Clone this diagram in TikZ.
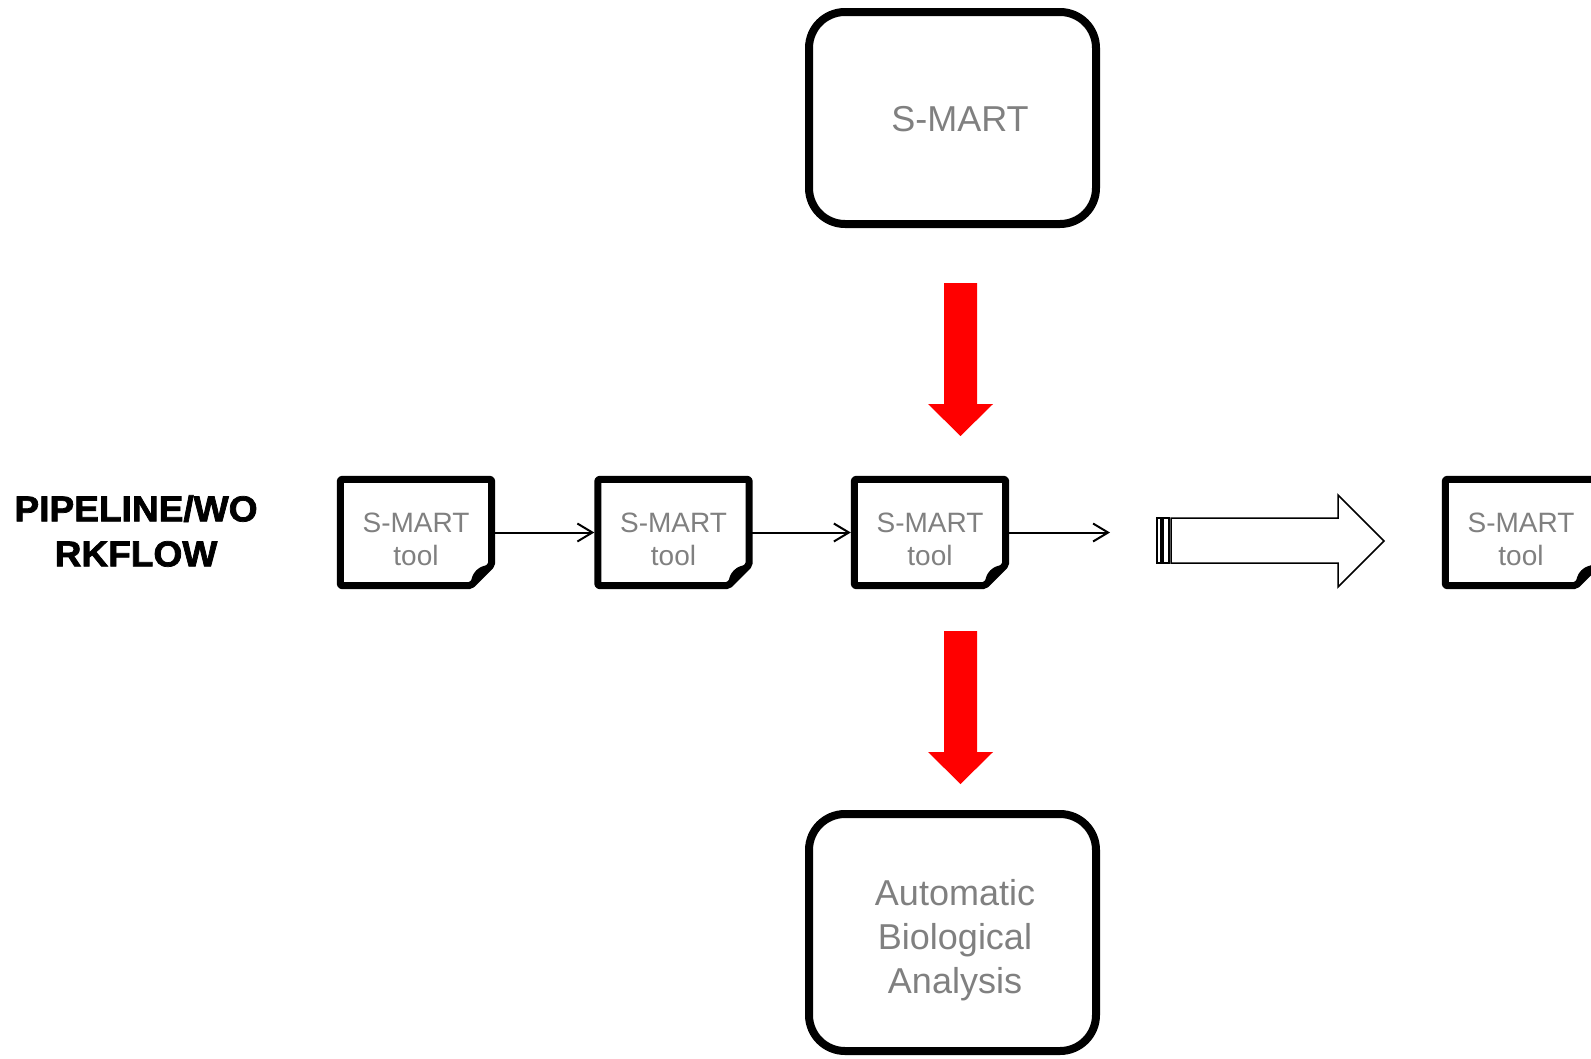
\documentclass[tikz,border=0pt]{standalone}
\usepackage{fontspec}
\setmainfont{Liberation Sans}
\usetikzlibrary{arrows.meta,calc}
\definecolor{txtgray}{HTML}{808080}
\newcommand\smartbox[3]{%
  \node[toolframe] (#1) at (#2,#3) {};
  \draw[toolline] (#1.north west) -- (#1.north east) -- ($(#1.south east)+(0,-21)$) -- ($(#1.south east)+(-21,0)$) -- (#1.south west) -- cycle;
  \fill ($(#1.south east)+(-21,0)$) .. controls ($(#1.south east)+(-21,-13)$) and ($(#1.south east)+(-13,-21)$) .. ($(#1.south east)+(0,-21)$) -- cycle;
  \node[tooltext] (#1txt) at ($(#1.center)+(0,7)$) {S-MART\\tool};
}
\begin{document}
\begin{tikzpicture}[x=1pt,y=-1pt,
  bigbox/.style={draw=black, line width=8pt, rounded corners=36pt, minimum width=287pt, minimum height=212pt, inner sep=0pt},
  toolframe/.style={minimum width=151pt, minimum height=106pt, inner sep=0pt},
  toolline/.style={draw=black, line width=7pt, line join=round, rounded corners=2pt},
  tooltext/.style={text=txtgray, font=\fontsize{28}{33}\selectfont, align=center, inner sep=0pt},
  bigtext/.style={text=txtgray, font=\fontsize{36}{44}\selectfont, align=center, inner sep=0pt},
  flow/.style={draw=black, line width=2pt, line cap=round, -{Straight Barb[length=15pt,width=18pt]}},
  redarrow/.style={fill=red},
  hollow/.style={draw=black, line width=1.5pt, fill=white}]
\useasboundingbox (0,0) rectangle (1591,1058);

% label
\node[font=\fontsize{36}{45}\selectfont\bfseries\addfontfeature{FakeBold=2}, align=center, inner sep=0pt, xscale=1.03] (lbl) at (136,531) {PIPELINE/WO\\RKFLOW};

% top and bottom boxes
\node[bigbox] (top) at (952.5,118) {};
\node[bigtext] (toptxt) at (960,119) {S-MART};
\node[bigbox, minimum height=237pt] (bot) at (952.5,932.5) {};
\node[bigtext] (bottxt) at (955,940) {Automatic\\Biological\\Analysis};

% red block arrows
\fill[redarrow] (944,283) -- (977,283) -- (977,404) -- (993,404) -- (960.5,436) -- (928,404) -- (944,404) -- cycle;
\fill[redarrow] (944,631) -- (977,631) -- (977,752) -- (993,752) -- (960.5,784) -- (928,752) -- (944,752) -- cycle;

% tool boxes
\smartbox{t1}{416}{532.5}
\smartbox{t2}{673.5}{532.5}
\smartbox{t3}{930}{532.5}
\smartbox{t4}{1521}{532.5}

% connectors
\coordinate (out3) at (1110,532.5);
\draw[flow, shorten >=3.5pt] (t1.east) -- (t2.west);
\draw[flow, shorten >=3.5pt] (t2.east) -- (t3.west);
\draw[flow] (t3.east) -- (out3);

% hollow striped arrow
\draw[hollow, line join=miter] (1171,518) -- (1338,518) -- (1338,495) -- (1384,541) -- (1338,587) -- (1338,563) -- (1171,563) -- cycle;
\draw[hollow] (1157,518) rectangle (1161,563);
\draw[hollow] (1163,518) rectangle (1169,563);
\end{tikzpicture}
\end{document}
